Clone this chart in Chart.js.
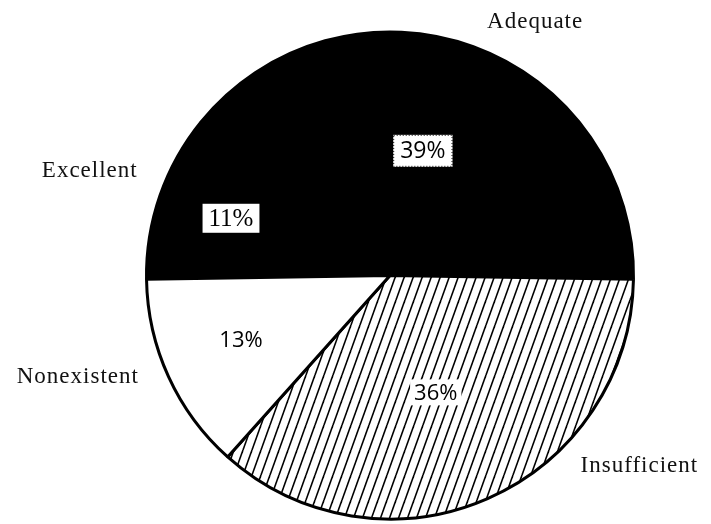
<!DOCTYPE html>
<html>
<head>
<meta charset="utf-8">
<script src="https://cdn.jsdelivr.net/npm/chart.js@4/dist/chart.umd.min.js"></script>
<style>
  html, body { margin: 0; padding: 0; background: #fff; }
  #wrap { width: 711px; height: 524px; }
</style>
</head>
<body>
<div id="wrap"><canvas id="pie" width="711" height="524"></canvas></div>
<script>
// Survey ratings, share of respondents (%)
const categories = ['Excellent', 'Adequate', 'Insufficient', 'Nonexistent'];
const shares = [11, 39, 36, 13];
const percentLabels = shares.map(v => v + '%');

// Label placement in units of the pie radius, relative to its centre
const namePos = [[-1.233, -0.431], [0.596, -1.043], [1.024, 0.782], [-1.282, 0.418]];
const pctPos = [[-0.653, -0.235], [0.135, -0.512], [0.188, 0.48], [-0.612, 0.263]];

function hatchPattern(ctx) {
  const w = 9, h = 25;
  const c = document.createElement('canvas');
  c.width = w; c.height = h;
  const g = c.getContext('2d');
  g.fillStyle = '#fff';
  g.fillRect(0, 0, w, h);
  g.strokeStyle = '#000';
  g.lineWidth = 1.6;
  for (const off of [-w, 0, w]) {
    g.beginPath();
    g.moveTo(off, h);
    g.lineTo(off + w, 0);
    g.stroke();
  }
  return ctx.createPattern(c, 'repeat');
}

const canvas = document.getElementById('pie');
const ctx = canvas.getContext('2d');
const fills = ['#000', '#000', hatchPattern(ctx), '#fff'];

// Tilt the start so the two dark slices share the upper half symmetrically
const total = shares.reduce((a, b) => a + b, 0);
const darkSweep = (shares[0] + shares[1]) / total * 360;
const startRotation = 270 - (darkSweep - 180) / 2;

const labelPlugin = {
  id: 'pieLabels',
  afterDraw(chart) {
    const arc = chart.getDatasetMeta(0).data[0];
    const cx = arc.x, cy = arc.y, R = arc.outerRadius;
    const c = chart.ctx;
    c.save();
    c.textAlign = 'center';
    c.textBaseline = 'middle';

    // category names outside the pie
    c.fillStyle = '#111';
    c.font = '23px "Liberation Serif", "DejaVu Serif", serif';
    if ('letterSpacing' in c) c.letterSpacing = '1px';
    categories.forEach((name, i) => {
      c.fillText(name, cx + namePos[i][0] * R, cy + namePos[i][1] * R);
    });
    if ('letterSpacing' in c) c.letterSpacing = '0px';

    // percentage labels inside the slices
    percentLabels.forEach((txt, i) => {
      const x = cx + pctPos[i][0] * R, y = cy + pctPos[i][1] * R;
      const serif = i === 0;
      c.font = serif ? '25px "Liberation Serif", serif'
        : (i === 1 ? '500 23px "Open Sans", "Liberation Sans", sans-serif'
                   : '22px "Open Sans", "Liberation Sans", sans-serif');
      const tw = c.measureText(txt).width;
      if (i === 0 || i === 1) {
        const bw = i === 1 ? tw + 14 : tw + 12;
        const bh = i === 1 ? 32 : 29;
        c.fillStyle = '#fff';
        c.fillRect(x - bw / 2, y - bh / 2, bw, bh);
        if (i === 1) {
          c.strokeStyle = '#000';
          c.lineWidth = 1;
          c.setLineDash([1, 2]);
          c.strokeRect(x - bw / 2 + 0.5, y - bh / 2 + 0.5, bw - 1, bh - 1);
          c.setLineDash([]);
        }
      } else if (i === 2) {
        c.fillStyle = '#fff';
        c.fillRect(x - tw / 2 - 4, y - 13, tw + 8, 26);
      }
      c.fillStyle = '#000';
      c.fillText(txt, x, y + 1);
    });
    c.restore();
  }
};

new Chart(ctx, {
  type: 'pie',
  data: {
    labels: categories,
    datasets: [{
      data: shares,
      backgroundColor: fills,
      borderColor: '#000',
      borderWidth: 3,
      hoverOffset: 0
    }]
  },
  options: {
    responsive: false,
    animation: false,
    rotation: startRotation,
    layout: { padding: { left: 145, right: 76, top: 30, bottom: 3 } },
    plugins: {
      legend: { display: false },
      tooltip: { enabled: false }
    }
  },
  plugins: [labelPlugin]
});
</script>
</body>
</html>
